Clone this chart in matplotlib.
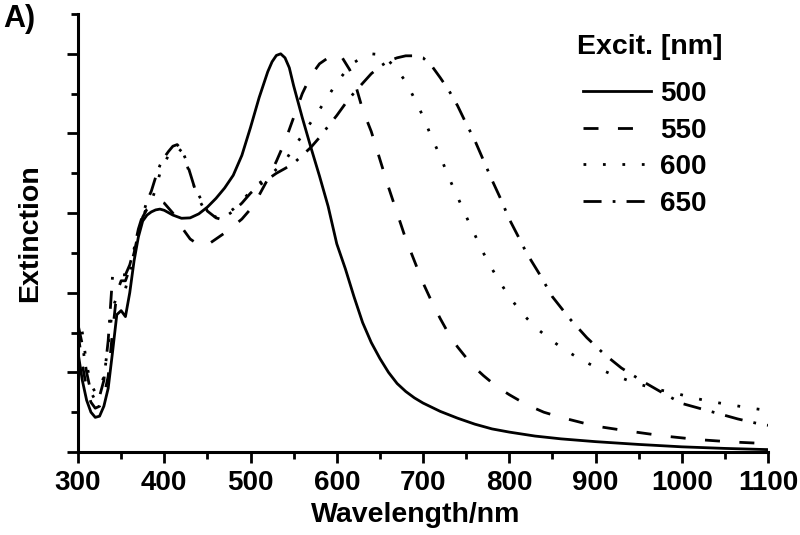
import numpy as np
import matplotlib
matplotlib.use("Agg")
from matplotlib import pyplot as plt
from matplotlib.ticker import MultipleLocator

plt.rcParams['font.family'] = ['Liberation Sans', 'DejaVu Sans']
plt.rcParams['font.weight'] = 'bold'

# Excitation 500 nm (solid)
wl_500 = [300, 305, 310, 315, 320, 325, 330, 335, 340, 345, 350, 355, 360, 365, 370, 375,
          380, 385, 390, 395, 400, 410, 420, 430, 440, 450, 460, 470, 480, 490, 500, 510,
          520, 525, 530, 535, 540, 545, 550, 560, 570, 580, 590, 600, 610, 620, 630, 640,
          650, 660, 670, 680, 690, 700, 720, 740, 760, 780, 800, 830, 860, 900, 950, 1000,
          1050, 1100]
ext_500 = [0.25, 0.18, 0.13, 0.10, 0.087, 0.09, 0.115, 0.16, 0.25, 0.345, 0.355, 0.34, 0.40,
           0.48, 0.54, 0.58, 0.595, 0.603, 0.608, 0.61, 0.607, 0.595, 0.587, 0.588, 0.598,
           0.615, 0.637, 0.663, 0.695, 0.745, 0.815, 0.89, 0.955, 0.98, 0.996, 1.0, 0.99,
           0.965, 0.92, 0.84, 0.765, 0.693, 0.617, 0.523, 0.46, 0.39, 0.325, 0.275, 0.235,
           0.20, 0.172, 0.152, 0.136, 0.123, 0.102, 0.085, 0.07, 0.058, 0.05, 0.04, 0.033,
           0.026, 0.019, 0.013, 0.009, 0.006]

# Excitation 550 nm (dashed)
wl_550 = [300, 305, 310, 315, 320, 325, 330, 335, 340, 345, 350, 355, 360, 365, 370, 375,
          380, 390, 395, 400, 410, 420, 430, 440, 445, 450, 460, 470, 480, 490, 500, 510,
          520, 530, 540, 550, 560, 570, 580, 590, 598, 605, 615, 620, 630, 640, 650, 660,
          670, 680, 690, 700, 710, 720, 730, 740, 750, 760, 770, 780, 790, 800, 820, 840,
          860, 880, 900, 940, 980, 1020, 1060, 1100]
ext_550 = [0.30, 0.22, 0.16, 0.125, 0.11, 0.115, 0.14, 0.19, 0.30, 0.40, 0.43, 0.43, 0.46,
           0.50, 0.55, 0.59, 0.61, 0.628, 0.63, 0.625, 0.60, 0.565, 0.535, 0.52, 0.518,
           0.52, 0.535, 0.55, 0.567, 0.585, 0.61, 0.645, 0.685, 0.73, 0.78, 0.84, 0.9,
           0.945, 0.975, 0.99, 1.0, 0.995, 0.96, 0.935, 0.86, 0.805, 0.735, 0.665, 0.60,
           0.535, 0.48, 0.425, 0.378, 0.335, 0.296, 0.264, 0.237, 0.212, 0.192, 0.174,
           0.158, 0.144, 0.119, 0.1, 0.087, 0.076, 0.065, 0.052, 0.04, 0.031, 0.025, 0.021]

# Excitation 600 nm (dotted)
wl_600 = [300, 305, 310, 315, 320, 325, 330, 335, 340, 345, 350, 355, 360, 365, 370, 375,
          380, 385, 390, 395, 400, 405, 410, 415, 420, 425, 430, 435, 440, 445, 450, 460,
          470, 480, 490, 500, 510, 520, 530, 540, 550, 560, 570, 580, 590, 600, 610, 620,
          630, 640, 650, 660, 670, 680, 690, 700, 710, 720, 730, 740, 750, 760, 770, 780,
          790, 800, 815, 830, 845, 860, 880, 900, 920, 945, 970, 990, 1010, 1030, 1055,
          1075, 1100]
ext_600 = [0.35, 0.30, 0.22, 0.17, 0.15, 0.155, 0.19, 0.27, 0.36, 0.39, 0.40, 0.41, 0.45,
           0.50, 0.55, 0.59, 0.615, 0.63, 0.66, 0.70, 0.725, 0.745, 0.76, 0.765, 0.755,
           0.73, 0.695, 0.665, 0.635, 0.615, 0.60, 0.59, 0.595, 0.61, 0.63, 0.655, 0.675,
           0.69, 0.71, 0.73, 0.765, 0.795, 0.828, 0.86, 0.893, 0.928, 0.955, 0.978, 0.992,
           1.0, 0.998, 0.983, 0.96, 0.93, 0.888, 0.843, 0.79, 0.743, 0.689, 0.641, 0.592,
           0.546, 0.50, 0.46, 0.424, 0.39, 0.348, 0.314, 0.287, 0.263, 0.236, 0.213, 0.194,
           0.174, 0.158, 0.149, 0.138, 0.128, 0.119, 0.112, 0.104]

# Excitation 650 nm (dash-dot)
wl_650 = [300, 305, 310, 315, 320, 325, 330, 335, 340, 345, 350, 355, 360, 365, 370, 375,
          380, 385, 390, 395, 400, 405, 410, 415, 420, 425, 430, 435, 440, 445, 450, 460,
          465, 470, 480, 490, 500, 510, 520, 530, 540, 550, 560, 570, 580, 590, 600, 610,
          620, 630, 640, 650, 660, 670, 680, 690, 700, 710, 720, 730, 740, 750, 760, 770,
          780, 790, 800, 810, 820, 835, 850, 870, 890, 910, 930, 955, 975, 1000, 1020,
          1045, 1065, 1085, 1100]
ext_650 = [0.32, 0.27, 0.20, 0.15, 0.13, 0.14, 0.18, 0.28, 0.44, 0.445, 0.445, 0.445, 0.47,
           0.51, 0.56, 0.595, 0.63, 0.655, 0.69, 0.72, 0.74, 0.755, 0.768, 0.772, 0.76,
           0.735, 0.70, 0.665, 0.645, 0.625, 0.605, 0.588, 0.585, 0.59, 0.605, 0.625, 0.65,
           0.67, 0.685, 0.70, 0.712, 0.725, 0.745, 0.765, 0.79, 0.818, 0.845, 0.875, 0.902,
           0.926, 0.95, 0.968, 0.982, 0.99, 0.995, 0.995, 0.99, 0.97, 0.94, 0.908, 0.87,
           0.825, 0.783, 0.733, 0.683, 0.636, 0.585, 0.543, 0.50, 0.447, 0.39, 0.335, 0.287,
           0.246, 0.211, 0.177, 0.152, 0.122, 0.11, 0.095, 0.083, 0.073, 0.067]

labels = ['500', '550', '600', '650']

W, H = 800, 535
fig = plt.figure(figsize=(8, 5.35), dpi=100)
# axes box in pixels: x 78..768, y 14..452
ax = fig.add_axes([78 / W, 1 - 452 / H, 690 / W, 438 / H])

lw = 2.0
ax.plot(wl_500, ext_500, color='black', lw=lw, label=labels[0])
ax.plot(wl_550, ext_550, color='black', lw=lw, dashes=(5.4, 7.0), label=labels[1])
ax.plot(wl_600, ext_600, color='black', lw=lw, dashes=(1.0, 6.0), label=labels[2])
ax.plot(wl_650, ext_650, color='black', lw=lw, dashes=(6.5, 4.0, 1.0, 4.0), label=labels[3])

ax.set_xlim(300, 1100)
ax.set_ylim(0, 1.1)
ax.xaxis.set_major_locator(MultipleLocator(100))
ax.xaxis.set_minor_locator(MultipleLocator(50))
ax.yaxis.set_major_locator(MultipleLocator(0.2))
ax.yaxis.set_minor_locator(MultipleLocator(0.1))
ax.set_yticklabels([])
ax.tick_params(which='major', length=8, width=2, direction='out', labelsize=20, pad=5)
ax.tick_params(which='minor', length=5, width=2, direction='out')
for side in ['top', 'right']:
    ax.spines[side].set_visible(False)
for side in ['left', 'bottom']:
    ax.spines[side].set_linewidth(2.2)

ax.set_xlabel('Wavelength/nm', fontsize=20.5, fontweight='bold', va='top')
ax.xaxis.set_label_coords((415.5 - 78) / 690, (452 - 502) / 438)
ax.set_ylabel('Extinction', fontsize=20.5, fontweight='bold')
ax.yaxis.set_label_coords((43 - 78) / 690, 0.5)

leg = ax.legend(loc='upper left', bbox_to_anchor=(583 / W, 1 - 81 / H),
                bbox_transform=fig.transFigure, frameon=False, fontsize=20,
                handlelength=2.45, handletextpad=0.32, labelspacing=0.38,
                borderpad=0, borderaxespad=0)
fig.text(577 / W, 1 - 47.5 / H, 'Excit. [nm]', fontsize=20.5, fontweight='bold',
         ha='left', va='center')

fig.text(3 / W, 1 - 19 / H, 'A)', fontsize=22, fontweight='bold', va='center', ha='left')

fig.savefig('out.png', dpi=100)
